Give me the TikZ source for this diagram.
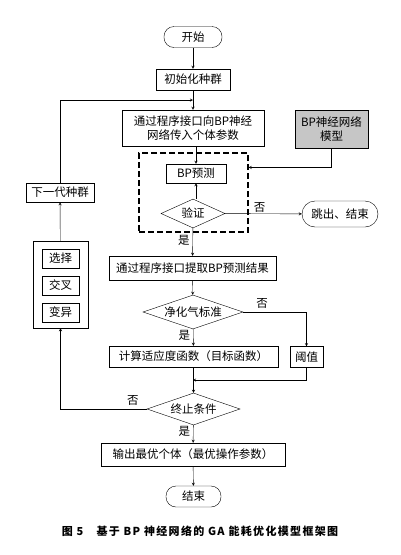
\documentclass[tikz,border=0pt]{standalone}
\usepackage{fontspec}
\setmainfont{Noto Sans CJK SC}
\usetikzlibrary{calc,shapes.geometric}

\begin{document}
\begin{tikzpicture}[x=1pt, y=-1pt, thin,
        every node/.style={font=\fontsize{11.5}{13.5}\selectfont, inner sep=0pt, align=center},
        box/.style={draw, rectangle, minimum width=#1, minimum height=21pt},
        term/.style={draw, rectangle, rounded corners=10pt, minimum width=#1, minimum height=21pt},
        decide/.style={draw, diamond, shape aspect=2.5, minimum width=#1, minimum height=31pt},
        arr/.style={->, >=stealth}]
        % Define canvas
        \useasboundingbox (0,0) rectangle (400,555);

        % Main column
        \node[term=58pt] (start) at (193,37) {开始};
        \node[box=74pt] (init) at (193,79.5) {初始化种群};
        \node[box=142pt, minimum height=36pt] (pass) at (193,128) {通过程序接口向BP神经\\网络传入个体参数};
        \node[draw, fill=gray!45, minimum width=73pt, minimum height=38pt] (bpmodel) at (331.5,129) {BP神经网络\\模型};

        % Dashed box round prediction and check
        \node[draw, dash pattern=on 6pt off 3pt, line width=1.1pt, minimum width=109pt, minimum height=79pt] (dashbox) at (193.5,192.5) {};
        \node[box=60pt, minimum height=19pt] (predict) at (196,173.5) {BP预测};
        \node[decide=64pt, minimum height=29pt] (verify) at (193,213.5) {验证};
        \node[term=76pt, minimum height=26pt, rounded corners=13pt] (quit) at (340,214) {跳出、结束};

        \node[box=167pt, minimum height=24pt] (extract) at (192.5,268) {通过程序接口提取BP预测结果};
        \node[decide=100pt, minimum height=34pt] (purify) at (193,312) {净化气标准};
        \node[box=169pt] (fitness) at (193.5,356.5) {计算适应度函数（目标函数）};
        \node[box=33pt] (thresh) at (306.5,357) {阈值};
        \node[decide=93pt, minimum height=32pt] (stop) at (193.5,409) {终止条件};
        \node[box=184pt, minimum height=23pt] (output) at (193,454.5) {输出最优个体（最优操作参数）};
        \node[term=55pt] (finish) at (193.5,496.5) {结束};

        % Genetic operators on the left
        \node[draw, minimum width=55pt, minimum height=87pt] (ops) at (60.5,284.5) {};
        \node[box=37pt, minimum height=19pt] (sel) at (60.5,258.5) {选择};
        \node[box=37pt, minimum height=19pt] (cross) at (60.5,285.5) {交叉};
        \node[box=37pt, minimum height=19pt] (mut) at (60.5,312.5) {变异};
        \node[box=68pt, minimum height=19pt] (nextgen) at (60,192.5) {下一代种群};

        % Join points
        \coordinate (join1) at (193,100);
        \coordinate (join2) at (193,380);

        % Connectors
        \draw[arr] (start) -- (init);
        \draw[arr] (init) -- (pass);
        \draw[arr] (nextgen.north) |- (join1);
        \draw[arr] (pass.south -| predict.north) -- (predict.north);
        \draw[arr] (bpmodel.south) |- ([yshift=-15pt]dashbox.north east);
        \draw[arr] (verify.north -| predict.south) -- (predict.south);
        \draw[arr] (verify) -- node[above=1pt, pos=0.45] {否} (quit);
        \draw[arr] (verify) -- node[left=3pt, pos=0.45] {是} (extract);
        \draw[arr] (extract) -- (purify);
        \draw[arr] (purify.east) -| node[above=3pt, pos=0.15] {否} (thresh.north);
        \draw[arr] (purify) -- node[left=3pt, pos=0.35] {是} (fitness);
        \draw[arr] (fitness) -- (stop);
        \draw[arr] (thresh.south) |- (join2);
        \draw[arr] (stop.west) -| node[above=3pt, pos=0.08] {否} (ops.south);
        \draw[arr] (ops) -- (nextgen);
        \draw[arr] (stop) -- node[left=3pt, pos=0.35] {是} (output);
        \draw[arr] (output) -- (finish);

        % Caption
        \node[font=\fontsize{11}{13}\selectfont\bfseries\addfontfeatures{LetterSpace=12}] (caption) at (200,531) {图 5\hspace{1.2em}基于 BP 神经网络的 GA 能耗优化模型框架图};
    \end{tikzpicture}
\end{document}
